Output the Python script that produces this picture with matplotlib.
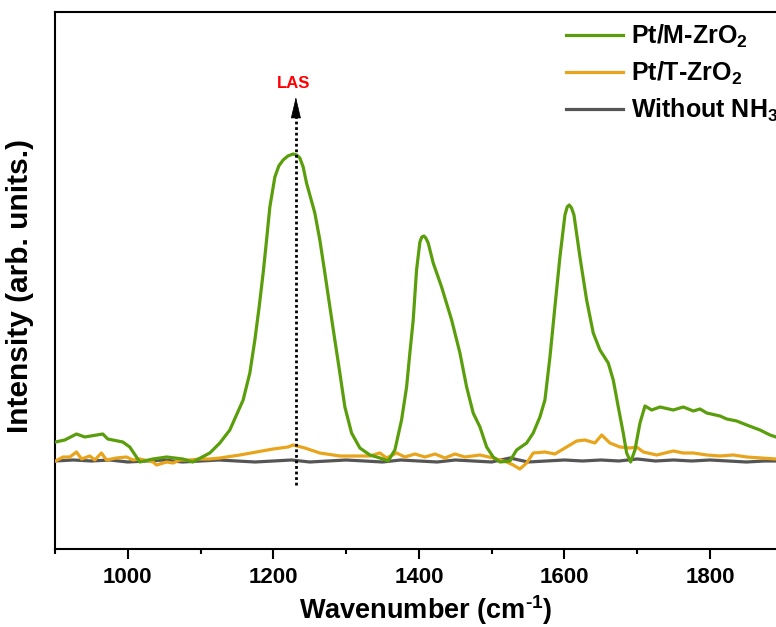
#!/usr/bin/env python3
# -*- coding: utf-8 -*-
"""In-situ DRIFTS of NH3 adsorption on Pt/M-ZrO2 and Pt/T-ZrO2."""

import matplotlib
matplotlib.use("Agg")
import matplotlib.pyplot as plt

# Pt/M-ZrO2 spectrum (wavenumber in cm-1, intensity in arb. units)
m_wn = [900.6, 913.4, 929.5, 940.9, 965.6, 972.5, 993.1, 1002.7, 1016.5, 1034.4,
        1053.6, 1075.6, 1089.3, 1112.7, 1126.5, 1140.2, 1158.5, 1167.7, 1174.6, 1180.5,
        1186.0, 1190.7, 1195.2, 1202.1, 1207.5, 1213.5, 1220.0, 1227.2, 1232.0, 1236.4,
        1241.0, 1245.6, 1257.0, 1263.9,
        1270.8, 1277.7, 1284.5, 1291.4, 1298.3, 1307.5, 1318.9, 1332.7, 1346.4, 1357.8,
        1367.0, 1376.2, 1383.1, 1387.6, 1392.2, 1396.8, 1401.4, 1404.0, 1406.9, 1409.5,
        1412.8, 1419.7,
        1431.2, 1445.0, 1456.4, 1465.6, 1474.6, 1483.9, 1493.1, 1502.1, 1511.4, 1525.1,
        1534.3, 1548.1, 1557.1, 1566.3, 1573.2, 1580.1, 1586.9, 1593.8, 1600.7, 1603.8,
        1606.6, 1609.8, 1613.1, 1621.3, 1630.5, 1639.6, 1648.8, 1660.2, 1667.1, 1674.0,
        1680.8, 1685.5,
        1691.0, 1696.9, 1703.8, 1710.7, 1719.9, 1731.3, 1749.6, 1763.3, 1777.1, 1786.3,
        1795.5, 1813.8, 1823.0, 1836.7, 1850.5, 1868.7, 1882.5, 1890.7, 1900.0]
m_int = [0.19, 0.21, 0.27, 0.24, 0.27, 0.22, 0.19, 0.14, -0.01, 0.02,
         0.04, 0.02, -0.01, 0.08, 0.18, 0.31, 0.61, 0.88, 1.21, 1.54,
         1.88, 2.21, 2.54, 2.84, 2.95, 3.01, 3.05, 3.07, 3.06, 3.03,
         2.94, 2.78, 2.48, 2.21,
         1.88, 1.54, 1.21, 0.88, 0.54, 0.28, 0.13, 0.06, 0.03, 0.00,
         0.11, 0.41, 0.74, 1.08, 1.41, 1.91, 2.19, 2.24, 2.25, 2.23,
         2.18, 1.98,
         1.74, 1.41, 1.08, 0.74, 0.48, 0.34, 0.14, 0.04, -0.01, 0.00,
         0.11, 0.18, 0.28, 0.44, 0.61, 1.04, 1.54, 2.04, 2.46, 2.54,
         2.56, 2.53, 2.46, 2.04, 1.61, 1.28, 1.11, 0.98, 0.81, 0.54,
         0.28, 0.08,
         -0.01, 0.11, 0.38, 0.55, 0.51, 0.54, 0.51, 0.54, 0.50, 0.52,
         0.48, 0.45, 0.42, 0.40, 0.36, 0.31, 0.26, 0.24, 0.22]

# Pt/T-ZrO2 spectrum
t_wn = [900.6, 911.1, 920.3, 929.5, 936.4, 947.8, 954.6, 963.8, 970.7, 984.5,
        998.2, 1007.3, 1016.5, 1034.8, 1039.5, 1053.2, 1062.3, 1071.5, 1085.2, 1099.0,
        1112.7, 1126.5, 1154.0, 1176.9, 1199.7, 1220.3, 1227.2, 1243.3, 1263.9, 1291.4,
        1332.7, 1346.4, 1355.6, 1369.3, 1380.8, 1394.5, 1408.3, 1422.0, 1435.8, 1449.5,
        1463.3, 1483.9, 1502.1, 1520.5, 1529.6, 1538.8, 1548.1, 1557.1, 1573.2, 1586.9,
        1603.0, 1616.8, 1628.2, 1641.9, 1651.2, 1662.5, 1676.3, 1690.1, 1699.3, 1708.4,
        1726.8, 1749.6, 1763.3, 1777.1, 1795.5, 1813.8, 1832.1, 1850.5, 1890.7, 1900.0]
t_int = [0.00, 0.04, 0.04, 0.09, 0.02, 0.05, 0.01, 0.08, 0.01, 0.03,
         0.04, 0.01, 0.02, -0.01, -0.04, -0.01, -0.02, 0.01, 0.01, 0.02,
         0.02, 0.03, 0.06, 0.09, 0.12, 0.14, 0.16, 0.13, 0.08, 0.05,
         0.05, 0.08, 0.03, 0.08, 0.04, 0.07, 0.04, 0.07, 0.03, 0.07,
         0.04, 0.06, 0.03, -0.01, -0.04, -0.08, -0.02, 0.08, 0.09, 0.07,
         0.14, 0.20, 0.21, 0.18, 0.26, 0.18, 0.14, 0.13, 0.14, 0.09,
         0.06, 0.10, 0.08, 0.08, 0.06, 0.05, 0.06, 0.04, 0.02, 0.02]

# background without NH3
b_wn = [900, 925, 950, 975, 1000, 1025, 1050, 1075, 1100, 1125,
        1150, 1175, 1200, 1225, 1250, 1275, 1300, 1325, 1350, 1375,
        1400, 1425, 1450, 1475, 1500, 1525, 1550, 1575, 1600, 1625,
        1650, 1675, 1700, 1725, 1750, 1775, 1800, 1825, 1850, 1875, 1900]
b_int = [0.00, 0.01, 0.00, 0.01, -0.01, 0.00, 0.01, -0.01, 0.00, 0.01,
         0.00, -0.01, 0.00, 0.01, -0.01, 0.00, 0.01, 0.00, -0.01, 0.01,
         0.00, -0.01, 0.01, 0.00, -0.01, 0.03, -0.01, 0.00, 0.01, 0.00,
         0.01, 0.00, 0.02, 0.00, 0.01, 0.00, 0.01, 0.00, -0.01, 0.00, 0.00]

LAS_WN = 1231
XTICKS = [1000, 1200, 1400, 1600, 1800]

GREEN = "#5a9e0c"
ORANGE = "#e8a51c"
GRAY = "#555555"

plt.rcParams.update({
    "font.family": ["Liberation Sans", "DejaVu Sans"],
    "font.weight": "bold",
    "mathtext.fontset": "custom",
    "mathtext.rm": "Liberation Sans:bold",
    "mathtext.bf": "Liberation Sans:bold",
    "mathtext.default": "bf",
})

fig = plt.figure(figsize=(7.76, 6.27), dpi=100)
ax = fig.add_axes([0.0709, 0.1244, 0.9378, 0.8565])

ax.plot(b_wn, b_int, color=GRAY, lw=2.3, label="Without NH$_3$", zorder=2)
ax.plot(t_wn, t_int, color=ORANGE, lw=2.3, label="Pt/T-ZrO$_2$", zorder=3)
ax.plot(m_wn, m_int, color=GREEN, lw=2.3, label="Pt/M-ZrO$_2$", zorder=4)

# LAS marker: dotted line with arrow head
ax.plot([LAS_WN, LAS_WN], [-0.24, 3.46], color="black", lw=2, ls=(0, (1, 1)), zorder=5)
ax.annotate("", xy=(LAS_WN, 3.64), xytext=(LAS_WN, 3.44),
            arrowprops=dict(arrowstyle="-|>,head_length=1.4,head_width=0.33",
                            mutation_scale=10, color="black", lw=0.5, shrinkA=0, shrinkB=0),
            zorder=6)
ax.text(LAS_WN - 3, 3.77, "LAS", color="red", fontsize=12, fontweight="bold",
        ha="center", va="center")

ax.set_xlim(900, 1900)
ax.set_ylim(-0.88, 4.49)
ax.set_xticks(XTICKS)
ax.set_xticks([900, 1100, 1300, 1500, 1700, 1900], minor=True)
ax.set_yticks([])
ax.tick_params(axis="x", which="major", direction="out", length=7.2, width=1.5,
               labelsize=16, pad=6)
ax.tick_params(axis="x", which="minor", direction="out", length=3.6, width=1.5)
for s in ax.spines.values():
    s.set_linewidth(1.5)

ax.set_xlabel(r"Wavenumber (cm$^{\text{-1}}$)", fontsize=19.5, fontweight="bold")
ax.set_ylabel("Intensity (arb. units.)", fontsize=21.5, fontweight="bold")
ax.xaxis.set_label_coords(0.51, -0.083)
ax.yaxis.set_label_coords(-0.029, 0.49)

handles, labels = ax.get_legend_handles_labels()
order = [2, 1, 0]
ax.legend([handles[i] for i in order], [labels[i] for i in order],
          loc="upper left", bbox_to_anchor=(0.729, 0.963), bbox_transform=fig.transFigure,
          frameon=False, fontsize=18, handlelength=2.3, handletextpad=0.3,
          labelspacing=0.38, borderaxespad=0, borderpad=0)

fig.savefig("out.png", dpi=100)
